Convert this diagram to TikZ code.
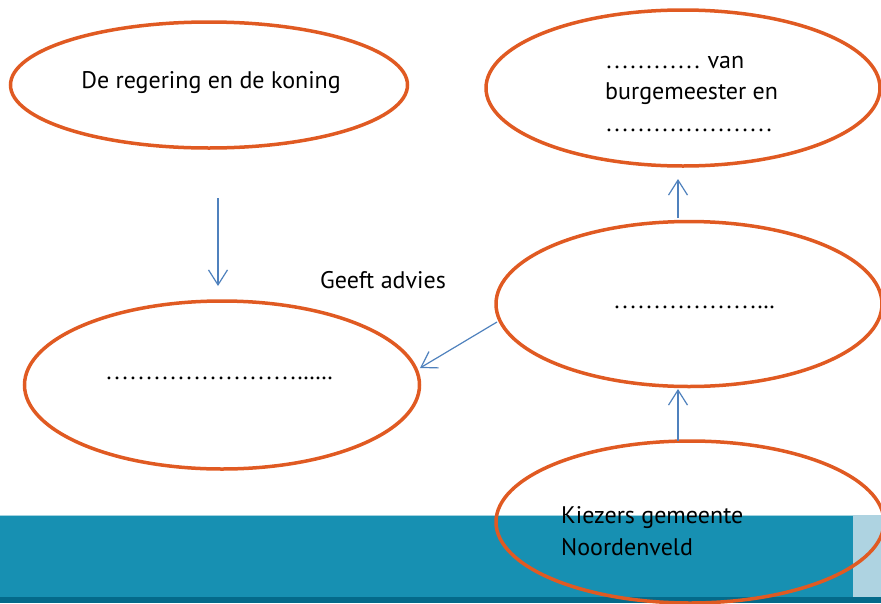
\documentclass[tikz,border=0pt]{standalone}
\usepackage{fontspec}
\setmainfont{PT Sans}
\newfontfamily\dotfont{Liberation Serif}
\usetikzlibrary{shapes.geometric,arrows.meta}
\definecolor{ora}{HTML}{E05A22}
\definecolor{arrblue}{HTML}{4F81BD}
\definecolor{teal}{HTML}{1790B2}
\definecolor{tealdark}{HTML}{046A8A}
\definecolor{teallight}{HTML}{AED3E1}
\begin{document}
\begin{tikzpicture}[x=1pt,y=-1pt,
  ell/.style={ellipse,draw=ora,line width=3.5pt,inner sep=0pt},
  arr/.style={draw=arrblue,line width=1.2pt,-{Straight Barb[length=15pt,width=19pt,line width=1.2pt]}},
  txt/.style={font=\fontsize{24}{31.5}\selectfont,inner sep=0pt,align=left}]
\useasboundingbox (0,0) rectangle (881,603);
\clip (0,0) rectangle (881,603);
% bottom bar
\fill[teal] (0,515) rectangle (853,598);
\fill[teallight] (853,515) rectangle (881,598);
\draw[white!60!teal,line width=1pt] (0,515.5) -- (853,515.5);
\fill[tealdark] (0,597) rectangle (881,603);
% ellipses
\node[ell,minimum width=397pt,minimum height=126pt] (reg) at (209,85) {};
\node[ell,minimum width=394pt,minimum height=156pt] (bw) at (683,88) {};
\node[ell,minimum width=386pt,minimum height=165pt] (raad) at (689,304) {};
\node[ell,minimum width=395pt,minimum height=168pt] (prov) at (222,385) {};
\node[ell,minimum width=388pt,minimum height=162pt] (kiez) at (690,522) {};
% texts
\node[txt] (t1) at (211,83) {De regering en de koning};
\node[txt,anchor=west] (t2) at (605,94) {{\dotfont …………} van\\burgemeester en\\{\dotfont …………………}};
\node[txt,anchor=west] (t3) at (613,307) {\dotfont ………………...};
\node[txt,anchor=west] (t4) at (105,378) {\dotfont ……………………......};
\node[txt,anchor=west] (t5) at (561,531) {Kiezers gemeente\\Noordenveld};
\node[txt] (t6) at (383,280) {Geeft advies};
% connectors
\coordinate (a1) at (218,198);
\coordinate (a2) at (218,286);
\coordinate (b1) at (678,218);
\coordinate (b2) at (678,179);
\coordinate (c1) at (678,441);
\coordinate (c2) at (678,389);
\coordinate (d1) at (497,322);
\coordinate (d2) at (420,368);
\draw[arr] (a1) -- (a2);
\draw[arr] (b1) -- (b2);
\draw[arr] (c1) -- (c2);
\draw[arr] (d1) -- (d2);
\end{tikzpicture}
\end{document}
